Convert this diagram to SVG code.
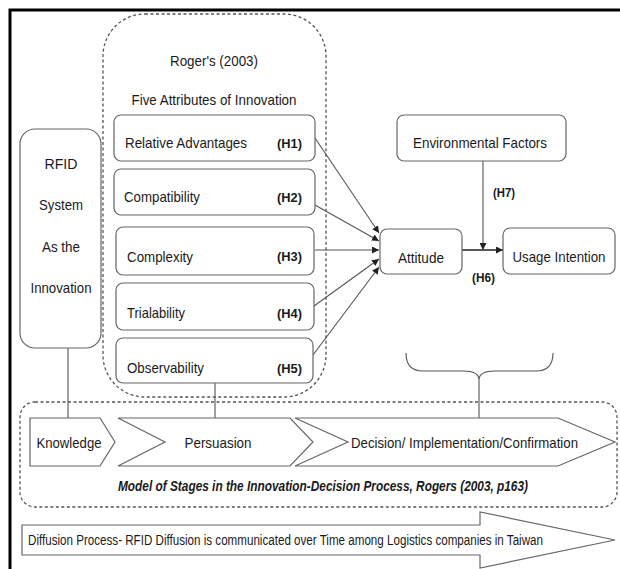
<svg xmlns="http://www.w3.org/2000/svg" width="620" height="569" viewBox="0 0 620 569">
<defs>
<style>
text{font-family:"Liberation Sans",Arial,sans-serif;fill:#1a1a1a;font-size:15px;dominant-baseline:central}
.c{text-anchor:middle}
.h{font-weight:bold;font-size:13px}
.box{fill:#fff;stroke:#666;stroke-width:1.2}
.dash{fill:none;stroke:#555;stroke-width:1.3;stroke-dasharray:3,2.5}
.ln{fill:none;stroke:#555;stroke-width:1.1}
.shape{fill:#fff;stroke:#666;stroke-width:1.2}
</style>
<marker id="ah" viewBox="0 0 10 10" refX="10" refY="5" markerWidth="7" markerHeight="7" orient="auto" markerUnits="userSpaceOnUse">
<path d="M0,0 L10,5 L0,10 Z" fill="#222"/>
</marker>
</defs>
<rect width="620" height="569" fill="#fff"/>
<path d="M10,569 L10,10 L620,10" fill="none" stroke="#000" stroke-width="3"/>

<g id="rogers-group">
<rect class="dash" x="103" y="14" width="223" height="383" rx="42"/>
<text class="c" x="214" y="60" textLength="88" lengthAdjust="spacingAndGlyphs">Roger's (2003)</text>
<text class="c" x="214" y="99" textLength="165" lengthAdjust="spacingAndGlyphs">Five Attributes of Innovation</text>
</g>

<g id="stages-group">
<rect class="dash" x="20" y="402" width="597" height="105" rx="15"/>
<text x="323" y="486" class="c" style="font-weight:bold;font-style:italic;font-size:14px" textLength="410" lengthAdjust="spacingAndGlyphs">Model of Stages in the Innovation-Decision Process, Rogers (2003, p163)</text>
</g>

<g id="connectors">
<line class="ln" x1="68" y1="348" x2="68" y2="418"/>
<line class="ln" x1="215" y1="383" x2="215" y2="418"/>
<path class="ln" d="M406,353 Q406,371 423,371 L463,371 Q479,371 479,380 Q479,371 495,371 L536,371 Q553,371 553,353"/>
<line class="ln" x1="479" y1="380" x2="479" y2="418"/>
<line class="ln" x1="315" y1="138" x2="379" y2="233" marker-end="url(#ah)"/>
<line class="ln" x1="315" y1="205" x2="379" y2="241" marker-end="url(#ah)"/>
<line class="ln" x1="315" y1="250" x2="379" y2="250" marker-end="url(#ah)"/>
<line class="ln" x1="314" y1="306" x2="379" y2="259" marker-end="url(#ah)"/>
<line class="ln" x1="313" y1="355" x2="379" y2="267" marker-end="url(#ah)"/>
<line x1="462" y1="250" x2="503" y2="250" stroke="#222" stroke-width="1.4" marker-end="url(#ah)"/>
<line class="ln" x1="483" y1="161" x2="483" y2="250" marker-end="url(#ah)"/>
<text class="h" x="493" y="192" textLength="22" lengthAdjust="spacingAndGlyphs">(H7)</text>
<text class="h" x="472" y="277" textLength="23" lengthAdjust="spacingAndGlyphs">(H6)</text>
</g>

<g id="rfid">
<rect class="box" x="20" y="129" width="81" height="219" rx="15"/>
<text class="c" x="61" y="163" textLength="33" lengthAdjust="spacingAndGlyphs">RFID</text>
<text class="c" x="61" y="204" textLength="44" lengthAdjust="spacingAndGlyphs">System</text>
<text class="c" x="61" y="246" textLength="38" lengthAdjust="spacingAndGlyphs">As the</text>
<text class="c" x="61" y="287" textLength="61" lengthAdjust="spacingAndGlyphs">Innovation</text>
</g>

<g id="relative-advantages">
<rect class="box" x="114" y="115" width="201" height="46" rx="7"/>
<text x="125" y="142" textLength="122" lengthAdjust="spacingAndGlyphs">Relative Advantages</text>
<text class="h" x="277" y="143" textLength="25" lengthAdjust="spacingAndGlyphs">(H1)</text>
</g>
<g id="compatibility">
<rect class="box" x="114" y="169" width="201" height="46" rx="7"/>
<text x="124" y="196" textLength="76" lengthAdjust="spacingAndGlyphs">Compatibility</text>
<text class="h" x="277" y="197" textLength="25" lengthAdjust="spacingAndGlyphs">(H2)</text>
</g>
<g id="complexity">
<rect class="box" x="116" y="227" width="198" height="48" rx="7"/>
<text x="127" y="256" textLength="66" lengthAdjust="spacingAndGlyphs">Complexity</text>
<text class="h" x="277" y="256" textLength="25" lengthAdjust="spacingAndGlyphs">(H3)</text>
</g>
<g id="trialability">
<rect class="box" x="116" y="283" width="198" height="47" rx="7"/>
<text x="127" y="312" textLength="58" lengthAdjust="spacingAndGlyphs">Trialability</text>
<text class="h" x="277" y="313" textLength="25" lengthAdjust="spacingAndGlyphs">(H4)</text>
</g>
<g id="observability">
<rect class="box" x="116" y="338" width="197" height="45" rx="7"/>
<text x="127" y="367" textLength="77" lengthAdjust="spacingAndGlyphs">Observability</text>
<text class="h" x="277" y="368" textLength="25" lengthAdjust="spacingAndGlyphs">(H5)</text>
</g>

<g id="environmental-factors">
<rect class="box" x="397" y="115" width="169" height="46" rx="7"/>
<text class="c" x="480" y="142" textLength="134" lengthAdjust="spacingAndGlyphs">Environmental Factors</text>
</g>
<g id="attitude">
<rect class="box" x="380" y="229" width="82" height="45" rx="7"/>
<text class="c" x="421" y="257" textLength="46" lengthAdjust="spacingAndGlyphs">Attitude</text>
</g>
<g id="usage-intention">
<rect class="box" x="503" y="228" width="112" height="46" rx="7"/>
<text class="c" x="559" y="256" textLength="93" lengthAdjust="spacingAndGlyphs">Usage Intention</text>
</g>

<g id="knowledge">
<path class="shape" d="M30,418 L100,418 L115,442 L100,466 L30,466 Z"/>
<text class="c" x="69" y="442" textLength="65" lengthAdjust="spacingAndGlyphs">Knowledge</text>
</g>
<g id="persuasion">
<path class="shape" d="M118,418 L290,418 L313,442 L290,466 L118,466 L165,442 Z"/>
<text class="c" x="218" y="442" textLength="67" lengthAdjust="spacingAndGlyphs">Persuasion</text>
</g>
<g id="decision">
<path class="shape" d="M295,418 L558,418 L615,442 L558,466 L295,466 L348,442 Z"/>
<text x="351" y="442" textLength="227" lengthAdjust="spacingAndGlyphs">Decision/ Implementation/Confirmation</text>
</g>

<g id="diffusion">
<path class="shape" d="M22,525 L480,525 L480,512 L615,540 L480,568 L480,555 L22,555 Z"/>
<text x="28" y="540" style="font-size:14px" textLength="515" lengthAdjust="spacingAndGlyphs">Diffusion Process- RFID Diffusion is communicated over Time among Logistics companies in Taiwan</text>
</g>
</svg>
